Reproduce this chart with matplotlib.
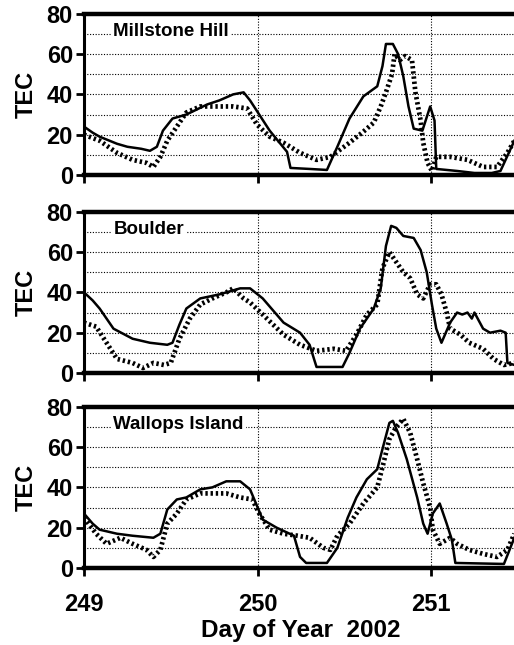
#!/usr/bin/env python3
"""TEC at three stations, model (solid) vs. observed (dots), days 249-251 of 2002."""

from __future__ import annotations

import matplotlib

matplotlib.use("Agg")
import matplotlib.pyplot as plt

# --- Millstone Hill -------------------------------------------------------
mh_model_day = [249.00, 249.05, 249.09, 249.19, 249.25, 249.33, 249.38, 249.42, 249.455, 249.51,
                249.59, 249.71, 249.78, 249.86, 249.92, 249.957, 250.07, 250.17, 250.19, 250.30,
                250.40, 250.46, 250.53, 250.61, 250.69, 250.72, 250.74, 250.78, 250.81, 250.84,
                250.87, 250.90, 250.95, 250.995, 251.02, 251.03, 251.15, 251.25, 251.35, 251.40,
                251.48]
mh_model_tec = [24, 21, 19, 15.5, 14, 13, 12, 14, 22, 28,
                30, 35, 37, 40, 41, 37, 22, 11.5, 3.5, 3,
                2.5, 14, 28, 39, 44, 54, 65, 65, 60, 49,
                34, 23, 22, 34, 27, 3, 2, 1, 1, 2,
                17]
mh_obs_day = [249.00, 249.09, 249.19, 249.28, 249.36, 249.40, 249.44, 249.48, 249.535, 249.59,
              249.67, 249.77, 249.86, 249.94, 249.997, 250.07, 250.15, 250.245, 250.34, 250.42,
              250.475, 250.53, 250.61, 250.67, 250.71, 250.74, 250.775, 250.79, 250.82, 250.85,
              250.89, 250.91, 250.94, 250.955, 250.98, 251.005, 251.03, 251.11, 251.21, 251.30,
              251.38, 251.44, 251.48]
mh_obs_tec = [20, 17, 11, 7.5, 6, 4, 9, 17, 24, 31,
              34, 34, 34, 33, 25, 19, 16, 11, 7.5, 9,
              12.5, 16, 21.5, 26, 34, 41, 50, 60, 57, 59,
              57, 41, 27, 16, 6, 2, 9, 9, 7.5, 4,
              4, 11, 17]

# --- Boulder --------------------------------------------------------------
bo_model_day = [249.00, 249.05, 249.09, 249.17, 249.28, 249.38, 249.48, 249.51, 249.55, 249.59,
                249.67, 249.78, 249.90, 249.957, 250.03, 250.15, 250.245, 250.30, 250.34, 250.49,
                250.53, 250.59, 250.67, 250.71, 250.74, 250.77, 250.80, 250.84, 250.90, 250.94,
                250.975, 251.005, 251.03, 251.06, 251.11, 251.15, 251.18, 251.21, 251.235, 251.25,
                251.30, 251.34, 251.40, 251.43, 251.44, 251.48]
bo_model_tec = [40, 36, 32, 22, 17, 15, 14, 15, 24, 32,
                37, 39, 42, 42, 37, 25, 20, 14, 3, 3,
                10, 22, 32, 42, 63, 73, 72, 68, 67, 61,
                50, 34, 22, 15, 25, 30, 29, 30, 27, 30,
                22, 20, 21, 20, 5, 4]
bo_obs_day = [249.00, 249.07, 249.13, 249.19, 249.28, 249.34, 249.40, 249.46, 249.50, 249.55,
              249.61, 249.67, 249.74, 249.82, 249.86, 249.92, 249.957, 250.03, 250.15, 250.245,
              250.34, 250.44, 250.51, 250.57, 250.63, 250.69, 250.72, 250.76, 250.80, 250.84,
              250.88, 250.92, 250.955, 250.995, 251.03, 251.06, 251.09, 251.11, 251.17, 251.22,
              251.30, 251.36, 251.42, 251.48]
bo_obs_tec = [25, 23, 15, 7, 5, 2.5, 5, 4, 5, 17,
              27, 34, 37, 40, 42, 37, 35, 29, 19, 14,
              11, 12, 11, 19, 29, 34, 52, 60, 55, 50,
              47, 39, 37, 44, 44, 39, 30, 22, 19, 15,
              12, 7, 4, 5]

# --- Wallops Island -------------------------------------------------------
wi_model_day = [249.00, 249.05, 249.09, 249.19, 249.28, 249.40, 249.44, 249.48, 249.535, 249.59,
                249.67, 249.74, 249.82, 249.90, 249.957, 250.03, 250.11, 250.21, 250.245, 250.28,
                250.40, 250.46, 250.52, 250.57, 250.63, 250.69, 250.72, 250.76, 250.78, 250.81,
                250.86, 250.92, 250.955, 250.98, 251.01, 251.05, 251.09, 251.12, 251.14, 251.42,
                251.48]
wi_model_tec = [27, 22, 19, 17, 16, 15, 17, 29, 34, 35,
                39, 40, 43, 43, 39, 24, 20, 16, 5.5, 2.5,
                2.5, 10, 25, 35, 44, 49, 59, 72, 73, 67,
                54, 35, 22, 17, 27, 32, 22, 14, 2.5, 2,
                15]
wi_obs_day = [249.00, 249.07, 249.13, 249.21, 249.28, 249.36, 249.40, 249.44, 249.48, 249.535,
              249.59, 249.67, 249.74, 249.82, 249.90, 249.97, 250.01, 250.07, 250.15, 250.23,
              250.30, 250.38, 250.42, 250.46, 250.53, 250.61, 250.69, 250.72, 250.76, 250.80,
              250.84, 250.88, 250.92, 250.955, 250.995, 251.01, 251.05, 251.11, 251.15, 251.22,
              251.30, 251.38, 251.44, 251.48]
wi_obs_tec = [25, 17, 12, 15, 12, 9, 5.5, 9, 22, 27,
              34, 37, 37, 37, 35, 34, 27, 19, 17, 16,
              15, 10, 9, 16, 22, 32, 40, 50, 64, 70,
              74, 67, 54, 42, 30, 19, 12, 15, 12, 9,
              7, 5.5, 9, 17]

stations = ["Millstone Hill", "Boulder", "Wallops Island"]
model_days = [mh_model_day, bo_model_day, wi_model_day]
model_tecs = [mh_model_tec, bo_model_tec, wi_model_tec]
obs_days = [mh_obs_day, bo_obs_day, wi_obs_day]
obs_tecs = [mh_obs_tec, bo_obs_tec, wi_obs_tec]

day_ticks = [249, 250, 251]
tec_ticks = [0, 20, 40, 60, 80]

FONT = ["Liberation Sans", "DejaVu Sans"]


def style_axes(ax, show_xlabels: bool) -> None:
    ax.set_xlim(249, 251.478)
    ax.set_ylim(0, 80)
    ax.set_yticks(tec_ticks)
    ax.set_yticks(range(10, 80, 10), minor=True)
    ax.set_xticks(day_ticks)
    ax.grid(True, which="both", axis="y", linestyle=(0, (1, 1.5)), color="black", linewidth=0.8)
    for d in day_ticks[1:]:
        ax.axvline(d, linestyle=(0, (1, 1.5)), color="black", linewidth=0.8, zorder=0.5)
    ax.tick_params(axis="y", which="minor", length=0)
    ax.tick_params(axis="both", which="major", direction="out", length=6, width=2,
                   labelsize=17, pad=2)
    ax.spines["right"].set_visible(False)
    ax.spines["top"].set_linewidth(3.2)
    ax.spines["bottom"].set_linewidth(3.2)
    ax.spines["left"].set_linewidth(2.2)
    ax.set_ylabel("TEC", fontsize=17, fontweight="bold", labelpad=6)
    for lab in ax.get_yticklabels() + ax.get_xticklabels():
        lab.set_fontweight("bold")
    if not show_xlabels:
        ax.set_xticklabels([])
    else:
        ax.tick_params(axis="x", pad=12)


def main() -> None:
    plt.rcParams["font.family"] = FONT
    fig = plt.figure(figsize=(5.14, 6.45), dpi=100)
    bottoms = [0.7287, 0.4217, 0.1194]
    height = 0.2500

    for i, name in enumerate(stations):
        ax = fig.add_axes([0.1634, bottoms[i], 0.8366, height])
        ax.plot(obs_days[i], obs_tecs[i], color="black", linewidth=3.4,
                linestyle=(0, (0.5, 0.6)), zorder=3)
        ax.plot(model_days[i], model_tecs[i], color="black", linewidth=1.8, zorder=4)
        ax.text(249.17, 71, name, fontsize=13.5, fontweight="bold", va="center", ha="left",
                bbox=dict(facecolor="white", edgecolor="none", pad=1.5), zorder=5)
        style_axes(ax, show_xlabels=(i == len(stations) - 1))

    fig.text(0.586, 0.004, "Day of Year  2002", fontsize=17.5, fontweight="bold", ha="center",
             va="bottom")
    fig.savefig("out.png", dpi=100)
    plt.close(fig)


if __name__ == "__main__":
    main()
